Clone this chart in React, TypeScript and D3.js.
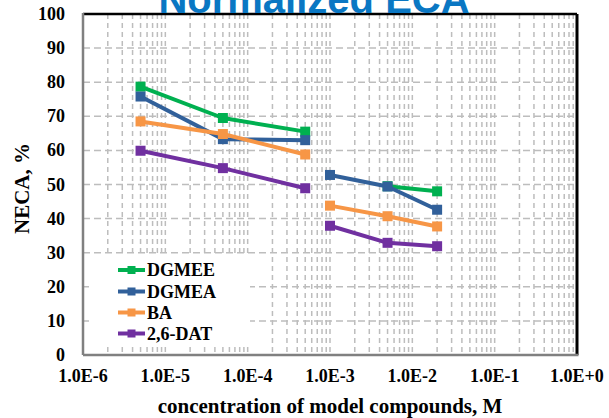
import React from "react";
import * as d3 from "d3";

// Concentrations (M) at which each compound was measured
const concentrations = [5e-6, 5e-5, 5e-4, 1e-3, 5e-3, 2e-2];
// Measurement runs: the curve is broken between the two groups
const runGroups = [[0, 1, 2], [3, 4, 5]];

const seriesNames = ["DGMEE", "DGMEA", "BA", "2,6-DAT"];
const dgmee = [78.7, 69.5, 65.5, null, 49.5, 48.0];
const dgmea = [75.8, 63.3, 63.0, 52.8, 49.4, 42.6];
const ba = [68.5, 64.8, 58.8, 43.8, 40.7, 37.7];
const dat26 = [59.9, 54.8, 48.9, 37.9, 32.9, 31.9];
const seriesColors = ["#00B050", "#31609A", "#F79646", "#7030A0"];

const xTickValues = [1e-6, 1e-5, 1e-4, 1e-3, 1e-2, 1e-1, 1];
const xTickLabels = ["1.0E-6", "1.0E-5", "1.0E-4", "1.0E-3", "1.0E-2", "1.0E-1", "1.0E+0"];
const yTickValues = [0, 10, 20, 30, 40, 50, 60, 70, 80, 90, 100];

const W = 609;
const H = 418;
const plot = { left: 83, right: 577, top: 14, bottom: 355 };
const serif = "'Liberation Serif', 'Times New Roman', serif";

export default function App() {
  const x = d3.scaleLog().domain([1e-6, 1]).range([plot.left, plot.right]);
  const y = d3.scaleLinear().domain([0, 100]).range([plot.bottom, plot.top]);

  // minor log gridlines at 2..9 of each decade
  const minorX: number[] = [];
  for (let e = -6; e < 0; e++) {
    for (let m = 2; m <= 9; m++) minorX.push(m * Math.pow(10, e));
  }
  const majorX = xTickValues.slice(1, -1);
  const gridY = yTickValues.slice(1, -1);

  const allSeries = [dgmee, dgmea, ba, dat26];
  const line = d3
    .line<[number, number]>()
    .x((d) => x(d[0]))
    .y((d) => y(d[1]));

  const legend = { x0: 89, x1: 250, y0: 257, y1: 345, sx0: 118, sx1: 145, tx: 147, rows: [270, 291.5, 312.5, 333.5] };

  return (
    <svg
      width={W}
      height={H}
      style={{ position: "absolute", left: 0, top: 0, background: "#fff" }}
    >
      <rect x={0} y={0} width={W} height={H} fill="#fff" />
      {/* gridlines */}
      <g stroke="#BDBDBD" strokeWidth={1.5} fill="none">
        {minorX.concat(majorX).map((v, i) => (
          <line key={"vx" + i} x1={x(v)} x2={x(v)} y1={plot.top} y2={plot.bottom} strokeDasharray="5,4" />
        ))}
        {gridY.map((v) => (
          <line key={"hy" + v} x1={plot.left} x2={plot.right} y1={y(v)} y2={y(v)} strokeDasharray="7,4" />
        ))}
      </g>

      {/* legend background */}
      <rect x={legend.x0} y={legend.y0} width={legend.x1 - legend.x0} height={legend.y1 - legend.y0} fill="#fff" />

      {/* plot frame */}
      <line x1={plot.left} x2={plot.right} y1={plot.top} y2={plot.top} stroke="#000" strokeWidth={2.5} />
      <line x1={plot.right} x2={plot.right} y1={plot.top} y2={plot.bottom} stroke="#000" strokeWidth={3} />
      <line x1={plot.left} x2={plot.left} y1={plot.top - 1} y2={plot.bottom} stroke="#808080" strokeWidth={2.5} />
      <line x1={plot.left} x2={plot.right + 1.5} y1={plot.bottom} y2={plot.bottom} stroke="#808080" strokeWidth={2.5} />

      {/* series */}
      {allSeries.map((vals, si) => (
        <g key={seriesNames[si]}>
          {runGroups.map((idx, gi) => {
            const pts = idx
              .filter((i) => vals[i] !== null)
              .map((i) => [concentrations[i], vals[i] as number] as [number, number]);
            return (
              <g key={gi}>
                <path d={line(pts) || ""} fill="none" stroke={seriesColors[si]} strokeWidth={4} strokeLinejoin="round" />
                {pts.map((p, pi) => (
                  <rect key={pi} x={x(p[0]) - 5} y={y(p[1]) - 5} width={10} height={10} fill={seriesColors[si]} />
                ))}
              </g>
            );
          })}
        </g>
      ))}

      {/* legend */}
      {seriesNames.map((name, i) => (
        <g key={name}>
          <line x1={legend.sx0} x2={legend.sx1} y1={legend.rows[i]} y2={legend.rows[i]} stroke={seriesColors[i]} strokeWidth={4} />
          <rect x={(legend.sx0 + legend.sx1) / 2 - 4} y={legend.rows[i] - 4} width={8} height={8} fill={seriesColors[i]} />
          <text x={legend.tx} y={legend.rows[i] + 6} fontFamily={serif} fontWeight="bold" fontSize={18} fill="#000">
            {name}
          </text>
        </g>
      ))}

      {/* y tick labels */}
      {yTickValues.map((v) => (
        <text key={"yl" + v} x={65} y={y(v) + 6} textAnchor="end" fontFamily={serif} fontWeight="bold" fontSize={18} fill="#000">
          {v}
        </text>
      ))}
      {/* x tick labels */}
      {xTickValues.map((v, i) => (
        <text key={"xl" + i} x={x(v)} y={382} textAnchor="middle" fontFamily={serif} fontWeight="bold" fontSize={18} fill="#000">
          {xTickLabels[i]}
        </text>
      ))}

      {/* axis titles */}
      <text x={(plot.left + plot.right) / 2} y={413} textAnchor="middle" fontFamily={serif} fontWeight="bold" fontSize={21} fill="#000">
        concentration of model compounds, M
      </text>
      <text
        transform={`translate(29, ${(plot.top + plot.bottom) / 2 + 4}) rotate(-90)`}
        textAnchor="middle"
        fontFamily={serif}
        fontWeight="bold"
        fontSize={21}
        fill="#000"
      >
        NECA, %
      </text>

      {/* chart title */}
      <text x={314} y={13} textAnchor="middle" fontFamily="'Liberation Sans', Arial, sans-serif" fontWeight="bold" fontSize={40} fill="#0A77C3">
        Normalized ECA
      </text>
    </svg>
  );
}
